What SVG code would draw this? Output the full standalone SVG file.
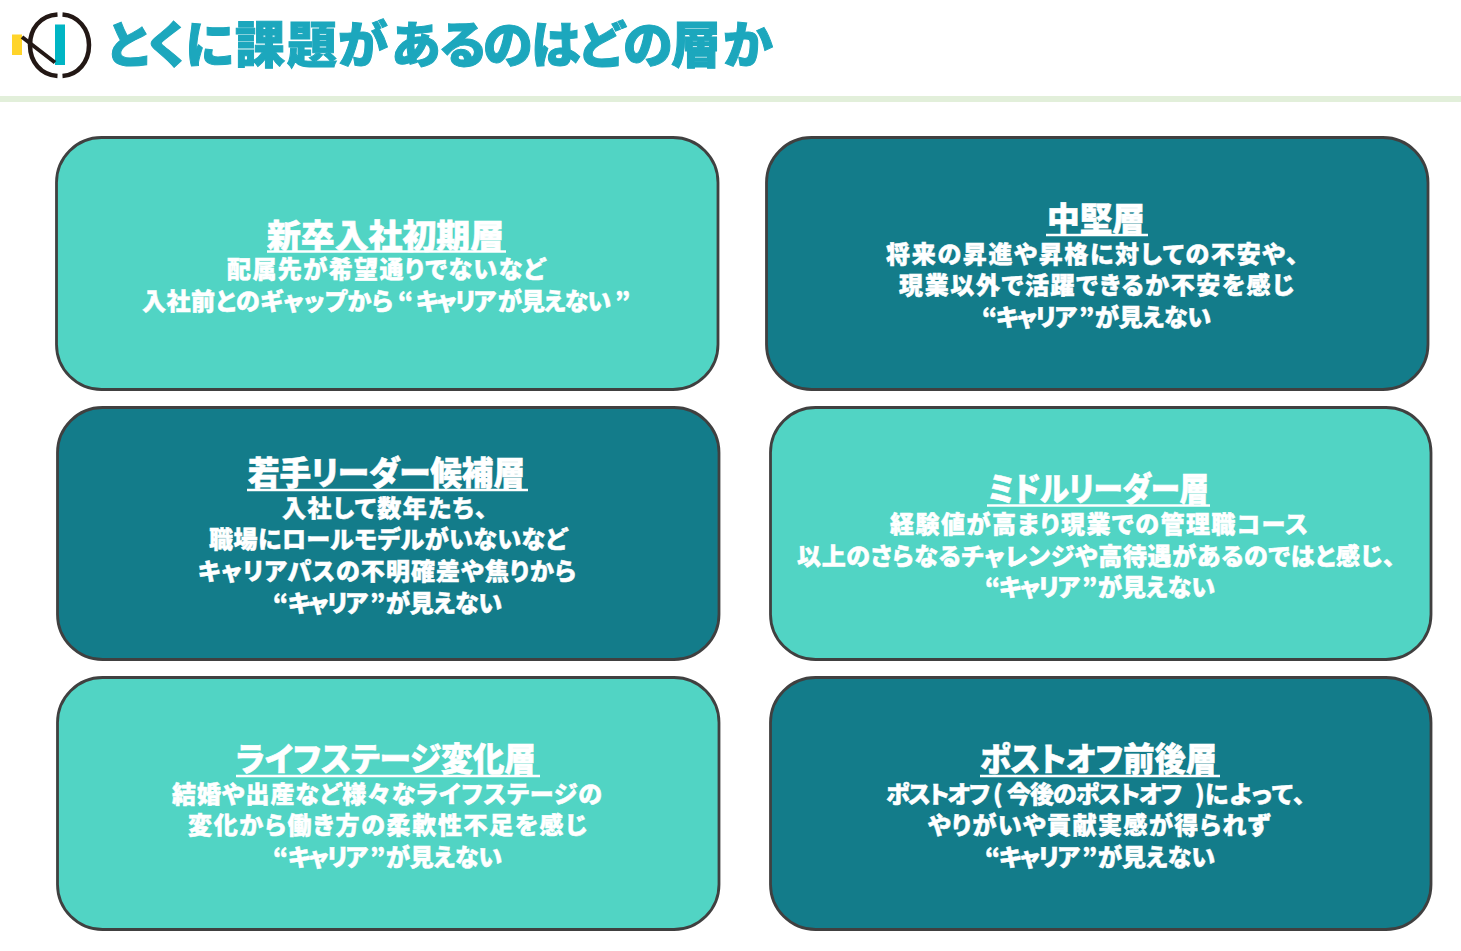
<svg xmlns="http://www.w3.org/2000/svg" width="1461" height="951" viewBox="0 0 1461 951">
<style>
text{font-family:"Noto Sans CJK JP","Noto Sans",sans-serif;font-weight:900;font-feature-settings:"palt";}
.box{stroke:#404040;stroke-width:2.800;}
.light{fill:#51D4C4;}
.dark{fill:#137C8A;}
.h{font-size:33px;fill:#fff;stroke:#fff;stroke-width:.6;}
.b{font-size:24px;fill:#fff;stroke:#fff;stroke-width:.5;}
.u{stroke:#fff;stroke-width:2.500;fill:none;}
.title{font-size:50px;fill:#1CA7BD;stroke:#1CA7BD;stroke-width:1;font-feature-settings:normal;}
</style>
<rect width="1461" height="951" fill="#fff"/>
<g id="header">
<g id="logo">
<rect x="12" y="34.500" width="10" height="20.500" fill="#FFD42A"/>
<rect x="55" y="24.500" width="10" height="40.500" fill="#00B5C4"/>
<path d="M22 37L55 62.500" stroke="#231815" stroke-width="4" fill="none"/>
<path d="M57.500 14.500C40 15.500 30 29 30 45C30 62 41 75 57.500 76M62.500 14.500C78 15.500 89 29 89 45C89 62 78 75 62.500 76" stroke="#231815" stroke-width="4.500" fill="none"/>
</g>
<text class="title" x="104 143 185 235 287 338 391 438 483 531 577 623 671 723" y="63">とくに課題があるのはどの層か</text>
<rect x="0" y="96" width="1461" height="6" fill="#E2EFDA"/>
</g>
<g id="connectors"></g>
<g id="node-shinsotsu">
<rect class="box light" x="56.500" y="137.500" width="661.500" height="252" rx="45"/>
<text class="h" x="267" y="248" textLength="237" lengthAdjust="spacingAndGlyphs">新卒入社初期層</text>
<path class="u" d="M267 251.500H506"/>
<text class="b" x="227" y="278" textLength="318" lengthAdjust="spacing">配属先が希望通りでないなど</text>
<text class="b" x="142" y="310"><tspan x="142" textLength="251" lengthAdjust="spacing">入社前とのギャップから</tspan><tspan x="398">“</tspan><tspan x="416" textLength="80" lengthAdjust="spacing">キャリア</tspan><tspan x="498" textLength="113" lengthAdjust="spacing">が見えない</tspan><tspan x="615">”</tspan></text>
</g>
<g id="node-chuken">
<rect class="box dark" x="766.500" y="137.500" width="661.500" height="252" rx="45"/>
<text class="h" x="1047" y="231" textLength="98" lengthAdjust="spacingAndGlyphs">中堅層</text>
<path class="u" d="M1046 235H1148"/>
<text class="b" x="886" y="263" textLength="412" lengthAdjust="spacing">将来の昇進や昇格に対しての不安や、</text>
<text class="b" x="899" y="294" textLength="395" lengthAdjust="spacing">現業以外で活躍できるか不安を感じ</text>
<text class="b" x="982" y="326"><tspan x="982">“</tspan><tspan x="996" textLength="81" lengthAdjust="spacing">キャリア</tspan><tspan x="1079">”</tspan><tspan x="1095" textLength="116" lengthAdjust="spacing">が見えない</tspan></text>
</g>
<g id="node-wakate">
<rect class="box dark" x="57.500" y="407.500" width="661.500" height="252" rx="45"/>
<text class="h" x="248" y="485" textLength="277" lengthAdjust="spacingAndGlyphs">若手リーダー候補層</text>
<path class="u" d="M247 490H528"/>
<text class="b" x="282" y="517" textLength="205" lengthAdjust="spacing">入社して数年たち、</text>
<text class="b" x="209" y="548" textLength="358" lengthAdjust="spacing">職場にロールモデルがいないなど</text>
<text class="b" x="198" y="580" textLength="378" lengthAdjust="spacing">キャリアパスの不明確差や焦りから</text>
<text class="b" x="273" y="612"><tspan x="273">“</tspan><tspan x="288" textLength="80" lengthAdjust="spacing">キャリア</tspan><tspan x="370">”</tspan><tspan x="386" textLength="116" lengthAdjust="spacing">が見えない</tspan></text>
</g>
<g id="node-middle">
<rect class="box light" x="770.500" y="407.500" width="660.500" height="252" rx="45"/>
<text class="h" x="988" y="501" textLength="221" lengthAdjust="spacingAndGlyphs">ミドルリーダー層</text>
<path class="u" d="M987 505.500H1210"/>
<text class="b" x="890" y="533" textLength="418" lengthAdjust="spacing">経験値が高まり現業での管理職コース</text>
<text class="b" x="797" y="565" textLength="598" lengthAdjust="spacing">以上のさらなるチャレンジや高待遇があるのではと感じ、</text>
<text class="b" x="985" y="596"><tspan x="985">“</tspan><tspan x="999" textLength="81" lengthAdjust="spacing">キャリア</tspan><tspan x="1082">”</tspan><tspan x="1098" textLength="117" lengthAdjust="spacing">が見えない</tspan></text>
</g>
<g id="node-lifestage">
<rect class="box light" x="57.500" y="677.500" width="661.500" height="252" rx="45"/>
<text class="h" x="236" y="771" textLength="300" lengthAdjust="spacingAndGlyphs">ライフステージ変化層</text>
<path class="u" d="M236 776H540"/>
<text class="b" x="172" y="803" textLength="430" lengthAdjust="spacing">結婚や出産など様々なライフステージの</text>
<text class="b" x="188" y="834" textLength="399" lengthAdjust="spacing">変化から働き方の柔軟性不足を感じ</text>
<text class="b" x="273" y="866"><tspan x="273">“</tspan><tspan x="288" textLength="80" lengthAdjust="spacing">キャリア</tspan><tspan x="370">”</tspan><tspan x="386" textLength="116" lengthAdjust="spacing">が見えない</tspan></text>
</g>
<g id="node-postoff">
<rect class="box dark" x="770.500" y="677.500" width="660.500" height="252" rx="45"/>
<text class="h" x="980" y="771" textLength="237" lengthAdjust="spacingAndGlyphs">ポストオフ前後層</text>
<path class="u" d="M980 776H1220"/>
<text class="b" x="886" y="803"><tspan x="886" textLength="104" lengthAdjust="spacing">ポストオフ</tspan><tspan x="993">(</tspan><tspan x="1007" textLength="175" lengthAdjust="spacing">今後のポストオフ</tspan><tspan x="1195">)</tspan><tspan x="1205" textLength="100" lengthAdjust="spacing">によって、</tspan></text>
<text class="b" x="928" y="834" textLength="342" lengthAdjust="spacing">やりがいや貢献実感が得られず</text>
<text class="b" x="985" y="866"><tspan x="985">“</tspan><tspan x="999" textLength="81" lengthAdjust="spacing">キャリア</tspan><tspan x="1082">”</tspan><tspan x="1098" textLength="117" lengthAdjust="spacing">が見えない</tspan></text>
</g>
</svg>
